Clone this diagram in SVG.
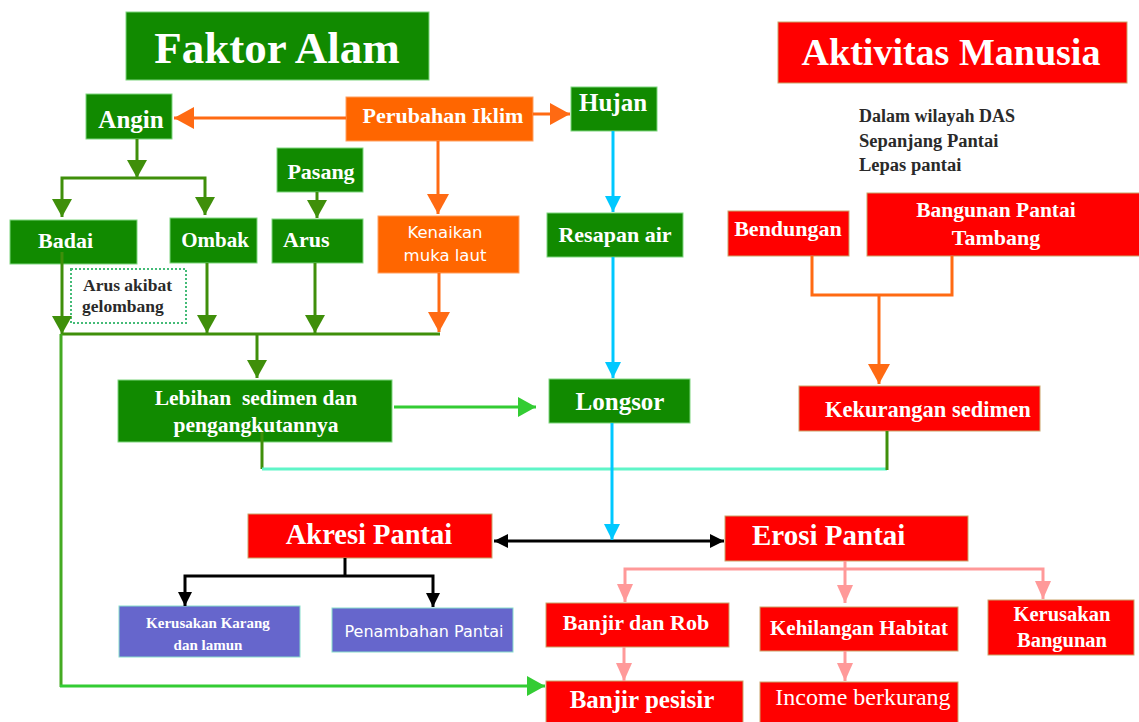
<svg xmlns="http://www.w3.org/2000/svg" width="1139" height="722" viewBox="0 0 1139 722">
<style>
.g{fill:#118a00;stroke:#7fd67f;stroke-width:1}
.r{fill:#ff0000;stroke:#c9a46a;stroke-width:1}
.o{fill:#ff6600;stroke:#ffa060;stroke-width:1}
.p{fill:#6666cc;stroke:#88ddcc;stroke-width:1}
text{font-family:"Liberation Serif","Times New Roman",serif;font-weight:bold;fill:#ffffff}
.s{font-family:"DejaVu Sans","Open Sans",sans-serif;font-weight:normal}
.n{font-weight:normal}
.m{text-anchor:middle}
.dk{fill:#2a2a2a}
.c{fill:none;stroke-width:3}
.cg{stroke:#3f8f0a}
.co{stroke:#ff6a13}
.cc{stroke:#00c8ff}
.cl{stroke:#33cc33}
.ck{stroke:#000000}
.cp{stroke:#ff9999}
.ct{stroke:#5ff5c8}
</style>
<defs>
<marker id="mG" markerUnits="userSpaceOnUse" markerWidth="18" markerHeight="20" refX="18" refY="10" orient="auto-start-reverse"><path d="M0,0 L18,10 L0,20 z" fill="#3f8f0a"/></marker>
<marker id="mO" markerUnits="userSpaceOnUse" markerWidth="20" markerHeight="22" refX="20" refY="11" orient="auto-start-reverse"><path d="M0,0 L20,11 L0,22 z" fill="#ff6a13"/></marker>
<marker id="mC" markerUnits="userSpaceOnUse" markerWidth="16" markerHeight="16" refX="16" refY="8" orient="auto-start-reverse"><path d="M0,0 L16,8 L0,16 z" fill="#00c8ff"/></marker>
<marker id="mL" markerUnits="userSpaceOnUse" markerWidth="18" markerHeight="20" refX="18" refY="10" orient="auto-start-reverse"><path d="M0,0 L18,10 L0,20 z" fill="#33cc33"/></marker>
<marker id="mK" markerUnits="userSpaceOnUse" markerWidth="14" markerHeight="14" refX="14" refY="7" orient="auto-start-reverse"><path d="M0,0 L14,7 L0,14 z" fill="#000000"/></marker>
<marker id="mP" markerUnits="userSpaceOnUse" markerWidth="18" markerHeight="16" refX="18" refY="8" orient="auto-start-reverse"><path d="M0,0 L18,8 L0,16 z" fill="#ff9999"/></marker>
</defs>
<rect width="1139" height="722" fill="#ffffff"/>

<g id="faktor-alam"><rect class="g" x="126" y="12" width="303" height="68"/><text class="m" x="277" y="63" font-size="45">Faktor Alam</text></g>
<g id="aktivitas-manusia"><rect class="r" x="778" y="22" width="349" height="61"/><text class="m" x="951" y="65" font-size="38">Aktivitas Manusia</text></g>
<g id="angin"><rect class="g" x="86" y="94" width="86" height="45"/><text class="m" x="131" y="128" font-size="25">Angin</text></g>
<g id="perubahan-iklim"><rect class="o" x="346" y="97" width="187" height="44"/><text class="m" x="443" y="123" font-size="22">Perubahan Iklim</text></g>
<g id="hujan"><rect class="g" x="571" y="87" width="86" height="44"/><text class="m" x="613" y="111" font-size="25">Hujan</text></g>
<g id="keterangan"><text class="dk" x="859" y="122" font-size="18">Dalam wilayah DAS</text><text class="dk" x="859" y="147" font-size="18.5">Sepanjang Pantai</text><text class="dk" x="859" y="171" font-size="18.5">Lepas pantai</text></g>
<g id="pasang"><rect class="g" x="277" y="148" width="86" height="44"/><text class="m" x="321" y="179" font-size="22">Pasang</text></g>
<g id="badai"><rect class="g" x="10" y="220" width="127" height="44"/><text x="38" y="248" font-size="22">Badai</text></g>
<g id="ombak"><rect class="g" x="170" y="218" width="87" height="45"/><text class="m" x="215" y="247" font-size="21">Ombak</text></g>
<g id="arus"><rect class="g" x="272" y="219" width="91" height="44"/><text x="283" y="247" font-size="22">Arus</text></g>
<g id="kenaikan-muka-laut"><rect class="o" x="378" y="216" width="141" height="57"/><text class="s m" x="445" y="238" font-size="16.5">Kenaikan</text><text class="s m" x="445" y="261" font-size="16.5">muka laut</text></g>
<g id="resapan-air"><rect class="g" x="547" y="213" width="136" height="44"/><text class="m" x="615" y="242" font-size="22">Resapan air</text></g>
<g id="bendungan"><rect class="r" x="728" y="211" width="121" height="45"/><text class="m" x="788" y="236" font-size="22">Bendungan</text></g>
<g id="bangunan-pantai-tambang"><rect class="r" x="867" y="193" width="278" height="63"/><text class="m" x="996" y="217" font-size="21.5">Bangunan Pantai</text><text class="m" x="996" y="245" font-size="22">Tambang</text></g>
<g id="arus-akibat-gelombang"><rect x="71" y="269" width="115" height="54" fill="#ffffff" stroke="#44bb77" stroke-width="2" stroke-dasharray="2 2"/><text class="dk" x="83" y="291" font-size="17.5">Arus akibat</text><text class="dk" x="82" y="312" font-size="17.5">gelombang</text></g>
<g id="lebihan-sedimen"><rect class="g" x="118" y="380" width="274" height="62"/><text class="m" x="256" y="405" font-size="21.5" xml:space="preserve">Lebihan  sedimen dan</text><text class="m" x="256" y="432" font-size="21.5">pengangkutannya</text></g>
<g id="longsor"><rect class="g" x="549" y="379" width="141" height="44"/><text class="m" x="620" y="410" font-size="25">Longsor</text></g>
<g id="kekurangan-sedimen"><rect class="r" x="799" y="386" width="241" height="45"/><text x="825" y="417" font-size="22.5">Kekurangan sedimen</text></g>
<g id="akresi-pantai"><rect class="r" x="248" y="514" width="244" height="44"/><text class="m" x="369" y="544" font-size="28.5">Akresi Pantai</text></g>
<g id="erosi-pantai"><rect class="r" x="725" y="516" width="243" height="45"/><text x="752" y="545" font-size="29">Erosi Pantai</text></g>
<g id="kerusakan-karang"><rect class="p" x="119" y="606" width="181" height="51"/><text class="m" x="208" y="628" font-size="15">Kerusakan Karang</text><text class="m" x="208" y="650" font-size="15">dan lamun</text></g>
<g id="penambahan-pantai"><rect class="p" x="332" y="608" width="181" height="44"/><text class="s m" x="424" y="637" font-size="16">Penambahan Pantai</text></g>
<g id="banjir-dan-rob"><rect class="r" x="546" y="603" width="183" height="44"/><text class="m" x="636" y="630" font-size="22">Banjir dan Rob</text></g>
<g id="kehilangan-habitat"><rect class="r" x="760" y="607" width="198" height="44"/><text class="m" x="859" y="635" font-size="21">Kehilangan Habitat</text></g>
<g id="kerusakan-bangunan"><rect class="r" x="988" y="600" width="146" height="55"/><text class="m" x="1062" y="621" font-size="20.5">Kerusakan</text><text class="m" x="1062" y="647" font-size="20.5">Bangunan</text></g>
<g id="banjir-pesisir"><rect class="r" x="546" y="681" width="197" height="50"/><text class="m" x="642" y="708" font-size="25">Banjir pesisir</text></g>
<g id="income-berkurang"><rect class="r" x="760" y="682" width="198" height="50"/><text class="m n" x="863" y="705" font-size="24">Income berkurang</text></g>

<g id="connectors">
<line class="c co" x1="346" y1="118" x2="174" y2="118" marker-end="url(#mO)"/>
<line class="c co" x1="533" y1="114" x2="570" y2="114" marker-end="url(#mO)"/>
<line class="c co" x1="438" y1="141" x2="438" y2="214" marker-end="url(#mO)"/>
<line class="c cg" x1="137" y1="139" x2="137" y2="178" marker-end="url(#mG)"/>
<path class="c cg" d="M62,217 V178 H205 V215" marker-start="url(#mG)" marker-end="url(#mG)"/>
<line class="c cg" x1="317" y1="192" x2="317" y2="218" marker-end="url(#mG)"/>
<line class="c cg" x1="62" y1="252" x2="62" y2="334" marker-end="url(#mG)"/>
<line class="c cg" x1="207" y1="263" x2="207" y2="333" marker-end="url(#mG)"/>
<line class="c cg" x1="315" y1="263" x2="315" y2="333" marker-end="url(#mG)"/>
<line class="c co" x1="439" y1="273" x2="439" y2="332" marker-end="url(#mO)"/>
<line class="c cg" x1="61" y1="334" x2="440" y2="334"/>
<line class="c cg" x1="257" y1="334" x2="257" y2="378" marker-end="url(#mG)"/>
<line class="c" stroke="#44aa22" x1="61" y1="334" x2="61" y2="687"/>
<line class="c cl" x1="60" y1="686" x2="545" y2="686" marker-end="url(#mL)"/>
<line class="c cc" x1="613" y1="131" x2="613" y2="212" marker-end="url(#mC)"/>
<line class="c cc" x1="613" y1="257" x2="613" y2="378" marker-end="url(#mC)"/>
<line class="c cl" x1="394" y1="407" x2="536" y2="407" marker-end="url(#mL)"/>
<line class="c cg" x1="262" y1="432" x2="262" y2="469"/>
<line class="c ct" x1="262" y1="469" x2="887" y2="469"/>
<line class="c cg" x1="887" y1="470" x2="887" y2="431"/>
<path class="c co" d="M812,256 V295 H952 V256"/>
<line class="c co" x1="879" y1="295" x2="879" y2="384" marker-end="url(#mO)"/>
<line class="c ck" x1="494" y1="541" x2="724" y2="541" marker-start="url(#mK)" marker-end="url(#mK)"/>
<line class="c cc" x1="612" y1="423" x2="612" y2="540" marker-end="url(#mC)"/>
<line class="c ck" x1="345" y1="558" x2="345" y2="576"/>
<path class="c ck" d="M185,606 V576 H433 V607" marker-start="url(#mK)" marker-end="url(#mK)"/>
<line class="c cp" x1="845" y1="561" x2="845" y2="603" marker-end="url(#mP)"/>
<path class="c cp" d="M625,602 V569 H1043 V599" marker-start="url(#mP)" marker-end="url(#mP)"/>
<line class="c cp" x1="624" y1="647" x2="624" y2="681" marker-end="url(#mP)"/>
<line class="c cp" x1="845" y1="651" x2="845" y2="681" marker-end="url(#mP)"/>
</g>
</svg>
